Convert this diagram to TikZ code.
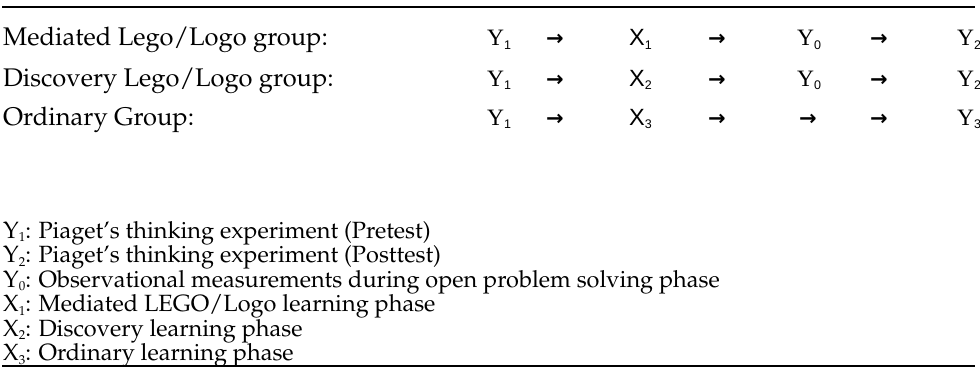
\documentclass[tikz,border=0pt]{standalone}
\usepackage[T1]{fontenc}
\usepackage{fontspec}
\newfontfamily\cellserif{Liberation Serif}
\newfontfamily\cellsans{Liberation Sans}
\newfontfamily\arrowfont{DejaVu Sans}
\newcommand\palfont{\fontencoding{T1}\fontfamily{ppl}\selectfont}
\newcommand\cellsub[1]{\raisebox{-3.5pt}{\cellsans\fontsize{12.5}{12.5}\selectfont #1}}
\newcommand\ysym[1]{{\cellserif Y}\cellsub{#1}}
\newcommand\xsym[1]{{\cellsans X}\cellsub{#1}}
\newcommand\lsub[1]{\raisebox{-3.5pt}{\fontsize{13}{13}\selectfont #1}}
\tikzset{
  grouplabel/.style={anchor=base west, inner sep=0pt, font=\palfont\fontsize{25.5}{28}\selectfont},
  cell/.style={anchor=base west, inner sep=0pt, font=\fontsize{23.5}{26}\selectfont},
  stepsym/.style={anchor=base, inner sep=0pt, font=\arrowfont\bfseries\fontsize{21}{24}\selectfont},
  legendline/.style={anchor=base west, inner sep=0pt, font=\palfont\fontsize{23.5}{26}\selectfont},
  rule/.style={line width=1.8pt}
}
\begin{document}
\begin{tikzpicture}[x=1pt,y=-1pt]
\useasboundingbox (0,0) rectangle (980,369);
\coordinate (TL) at (2,7);
\coordinate (TR) at (975,7);
\coordinate (BL) at (2,366);
\coordinate (BR) at (975,366);
\draw[rule] (TL) -- (TR);
\node[grouplabel] (g1) at (3,46) {Mediated Lego/Logo group:};
\node[grouplabel] (g2) at (3,86) {Discovery Lego/Logo group:};
\node[grouplabel] (g3) at (3,125) {Ordinary Group:};
\node[cell] (y11) at (487,46) {\ysym{1}};
\node[stepsym] (s11) at (555,46) {→};
\node[cell] (x1) at (629,46) {\xsym{1}};
\node[stepsym] (s12) at (717,46) {→};
\node[cell] (y01) at (797,46) {\ysym{0}};
\node[stepsym] (s13) at (879,46) {→};
\node[cell] (y21) at (957,46) {\ysym{2}};
\node[cell] (y12) at (487,86) {\ysym{1}};
\node[stepsym] (s21) at (555,86) {→};
\node[cell] (x2) at (629,86) {\xsym{2}};
\node[stepsym] (s22) at (717,86) {→};
\node[cell] (y02) at (797,86) {\ysym{0}};
\node[stepsym] (s23) at (879,86) {→};
\node[cell] (y22) at (957,86) {\ysym{2}};
\node[cell] (y13) at (487,125) {\ysym{1}};
\node[stepsym] (s31) at (555,125) {→};
\node[cell] (x3) at (629,125) {\xsym{3}};
\node[stepsym] (s32) at (717,125) {→};
\node[stepsym] (s33) at (808,125) {→};
\node[stepsym] (s34) at (879,125) {→};
\node[cell] (y33) at (957,125) {\ysym{3}};
\node[legendline] (l1) at (3,238) {Y\lsub{1}: Piaget's thinking experiment (Pretest)};
\node[legendline] (l2) at (3,262.5) {Y\lsub{2}: Piaget's thinking experiment (Posttest)};
\node[legendline] (l3) at (3,287) {Y\lsub{0}: Observational measurements during open problem solving phase};
\node[legendline] (l4) at (3,311.5) {X\lsub{1}: Mediated LEGO/Logo learning phase};
\node[legendline] (l5) at (3,336) {X\lsub{2}: Discovery learning phase};
\node[legendline] (l6) at (3,360.5) {X\lsub{3}: Ordinary learning phase};
\draw[rule] (BL) -- (BR);
\end{tikzpicture}
\end{document}
